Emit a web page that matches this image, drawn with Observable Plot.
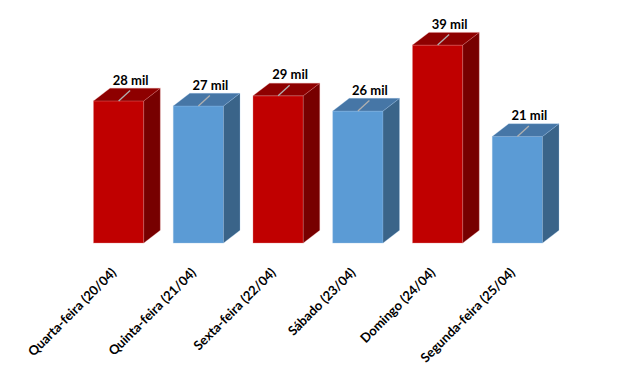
<!DOCTYPE html>
<html>
<head>
<meta charset="utf-8">
<script src="https://cdn.jsdelivr.net/npm/d3@7"></script>
<script src="https://cdn.jsdelivr.net/npm/@observablehq/plot@0.6"></script>
<style>
  html, body { margin: 0; padding: 0; background: #fff; }
  #chart svg { display: block; }
</style>
</head>
<body>
<div id="chart"></div>
<script>
const days = ["Quarta-feira (20/04)", "Quinta-feira (21/04)", "Sexta-feira (22/04)", "Sábado (23/04)", "Domingo (24/04)", "Segunda-feira (25/04)"];
const values = [28, 27, 29, 26, 39, 21];
const labels = ["28 mil", "27 mil", "29 mil", "26 mil", "39 mil", "21 mil"];
const groups = ["red", "blue", "red", "blue", "red", "blue"];

const palette = {
  red:  {front: "#C00000", top: "#8E0000", side: "#770000", edge: "#E58A8A"},
  blue: {front: "#5B9BD5", top: "#4676A6", side: "#3A6489", edge: "#9CC3E8"}
};

const data = days.map((d, i) => ({day: d, value: values[i], label: labels[i], group: groups[i]}));

const DX = 16.5, DY = 12.7;

function faces(index, scales) {
  const g = d3.create("svg:g");
  const bw = scales.x.bandwidth();
  const y0 = scales.y(0);
  for (const d of data) {
    const x0 = scales.x(d.day), x1 = x0 + bw, yt = scales.y(d.value);
    const c = palette[d.group];
    g.append("path")
      .attr("d", `M${x1},${yt}L${x1 + DX},${yt - DY}L${x1 + DX},${y0 - DY}L${x1},${y0}Z`)
      .attr("fill", c.side).attr("stroke", c.edge).attr("stroke-opacity", 0.4).attr("stroke-width", 0.7);
    g.append("path")
      .attr("d", `M${x0},${yt}L${x0 + DX},${yt - DY}L${x1 + DX},${yt - DY}L${x1},${yt}Z`)
      .attr("fill", c.top).attr("stroke", c.edge).attr("stroke-opacity", 0.4).attr("stroke-width", 0.7);
    const cx = x0 + bw / 2;
    g.append("line")
      .attr("x1", cx).attr("y1", yt)
      .attr("x2", cx + 11.5).attr("y2", yt - 10.5)
      .attr("stroke", "#B0B0B0").attr("stroke-width", 1.3);
  }
  return g.node();
}

const chart = Plot.plot({
  width: 625,
  height: 372,
  marginTop: 40,
  marginBottom: 129,
  marginLeft: 64,
  marginRight: 53,
  style: {fontFamily: "Lato, 'Open Sans', sans-serif", background: "#fff"},
  x: {domain: days, padding: 0.37, axis: null, round: false},
  y: {domain: [0, 40], axis: null},
  marks: [
    Plot.barY(data, {
      x: "day", y: "value",
      fill: d => palette[d.group].front,
      stroke: d => palette[d.group].edge, strokeOpacity: 0.5, strokeWidth: 0.7
    }),
    faces,
    Plot.text(data, {
      x: "day", y: "value", text: "label",
      dx: 11.5, dy: -21,
      fontWeight: "bold", fontSize: 13, fill: "#000"
    }),
    Plot.text(data, {
      x: "day", y: () => 0, text: "day",
      rotate: -45, textAnchor: "end", lineAnchor: "middle",
      dx: -5, dy: 27,
      fontWeight: "bold", fontSize: 13, fill: "#000"
    })
  ]
});

document.getElementById("chart").append(chart);
</script>
</body>
</html>
